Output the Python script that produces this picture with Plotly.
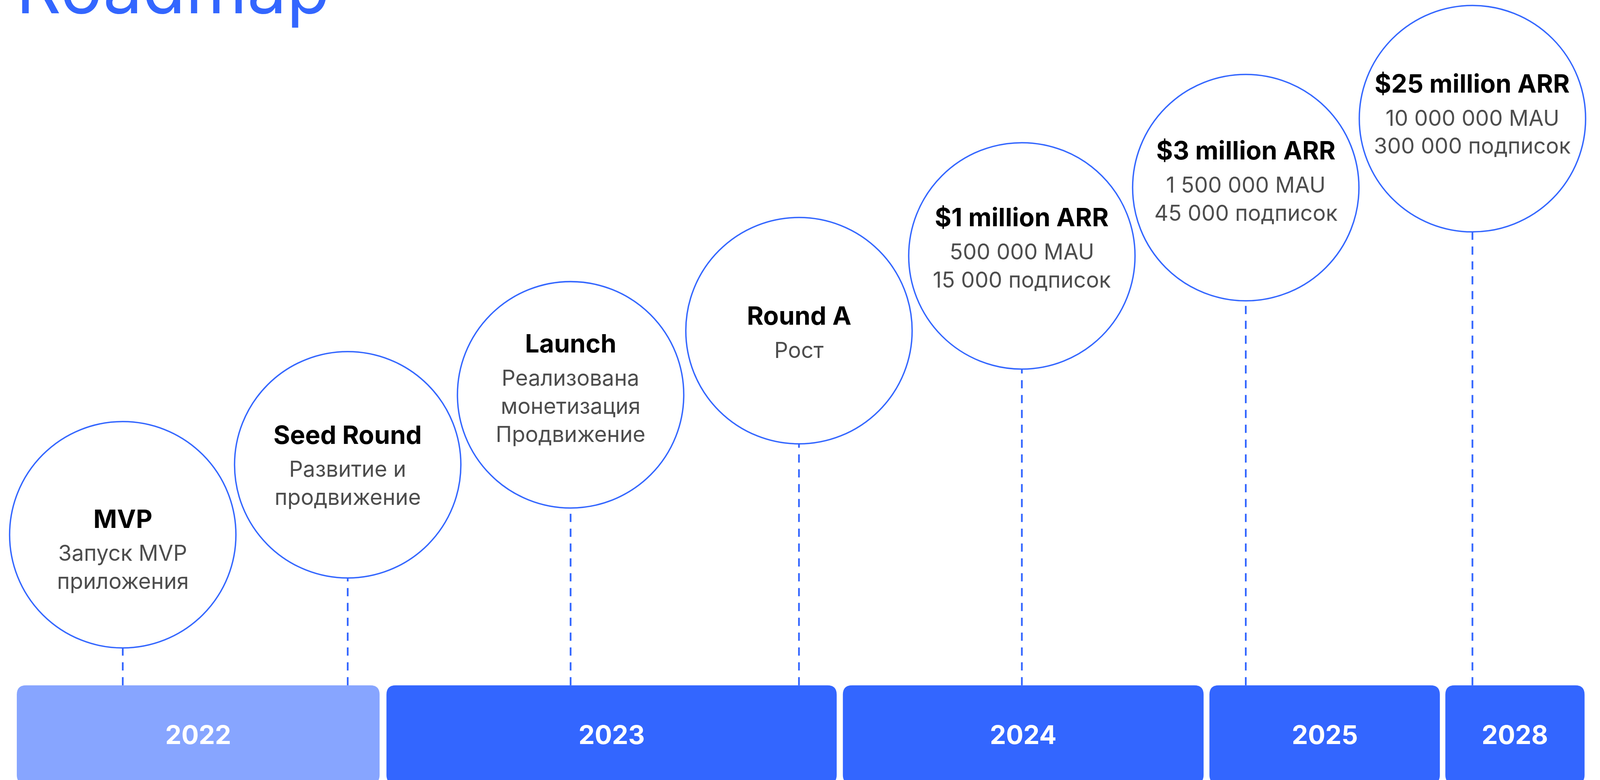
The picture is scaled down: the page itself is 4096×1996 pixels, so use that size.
import plotly.graph_objects as go

# ---------------- data ----------------
milestones = ["MVP", "Seed Round", "Launch", "Round A",
              "$1 million ARR", "$3 million ARR", "$25 million ARR"]
details = [
    ["Запуск MVP", "приложения"],
    ["Развитие и", "продвижение"],
    ["Реализована", "монетизация", "Продвижение"],
    ["Рост"],
    ["500 000 MAU", "15 000 подписок"],
    ["1 500 000 MAU", "45 000 подписок"],
    ["10 000 000 MAU", "300 000 подписок"],
]
years = ["2022", "2023", "2024", "2025", "2028"]
title_text = "Roadmap"

# ---------------- layout (reference pixel space) ----------------
REF_W, REF_H = 4666, 2274
OUT_W, OUT_H = 4096, 1996
S = OUT_W / REF_W

circle_cx = [358, 1014, 1664, 2330, 2980, 3633, 4294]
circle_cy = [1559, 1355, 1151, 964, 746, 547, 346]
circle_r = 330
title_baseline_off = [-20, -61, -123, -17, -86, -82, -76]

year_x0 = [49, 1127, 2458, 3527, 4215]
year_x1 = [1107, 2440, 3510, 4199, 4621]
bar_top, bar_bottom, bar_rad = 1998, 2286, 27

BLUE = "#3366FF"
LIGHT = "#87A5FF"
year_colors = [LIGHT, BLUE, BLUE, BLUE, BLUE]

FONT = "Inter"
title_fs_ref = 74      # bold milestone title
sub_fs_ref = 63.5      # detail lines
year_fs_ref = 75
head_fs_ref = 205
CAP = 0.727

fig = go.Figure()
shapes = []
ann = []

# circles and dashed connectors
for i, name in enumerate(milestones):
    cx, cy = circle_cx[i], circle_cy[i]
    shapes.append(dict(type="circle", xref="x", yref="y",
                       x0=cx - circle_r, x1=cx + circle_r,
                       y0=cy - circle_r, y1=cy + circle_r,
                       line=dict(color=BLUE, width=4.0 * S),
                       fillcolor="rgba(0,0,0,0)", layer="above"))
    shapes.append(dict(type="line", xref="x", yref="y",
                       x0=cx, x1=cx, y0=bar_top, y1=cy + circle_r,
                       line=dict(color=BLUE, width=5.0 * S, dash="21px,17px")))
    base = cy + title_baseline_off[i]
    ann.append(dict(x=cx, y=base - CAP * title_fs_ref / 2, xref="x", yref="y",
                    text="<b>" + name + "</b>", showarrow=False,
                    xanchor="center", yanchor="middle",
                    font=dict(family=FONT, size=title_fs_ref * S, color="#000000")))
    for k, line in enumerate(details[i]):
        b = base + 96 + 82 * k
        ann.append(dict(x=cx, y=b - CAP * sub_fs_ref / 2, xref="x", yref="y",
                        text=line, showarrow=False,
                        xanchor="center", yanchor="middle",
                        font=dict(family=FONT, size=sub_fs_ref * S, color="#4D4D4D")))

# year bars (rounded rectangles)
def rrect(x0, y0, x1, y1, r):
    return (f"M {x0+r},{y0} L {x1-r},{y0} Q {x1},{y0} {x1},{y0+r} "
            f"L {x1},{y1-r} Q {x1},{y1} {x1-r},{y1} L {x0+r},{y1} "
            f"Q {x0},{y1} {x0},{y1-r} L {x0},{y0+r} Q {x0},{y0} {x0+r},{y0} Z")

for j, yr in enumerate(years):
    shapes.append(dict(type="path", xref="x", yref="y",
                       path=rrect(year_x0[j], bar_top, year_x1[j], bar_bottom, bar_rad),
                       fillcolor=year_colors[j], line=dict(width=0), layer="below"))
    ann.append(dict(x=(year_x0[j] + year_x1[j]) / 2, y=(bar_top + bar_bottom) / 2,
                    xref="x", yref="y", text="<b>" + yr + "</b>", showarrow=False,
                    xanchor="center", yanchor="middle",
                    font=dict(family=FONT, size=year_fs_ref * S, color="#FFFFFF")))

# heading (cut at the top edge, as in the reference) -- paper coords
head_base = 39
head_mid_ref = head_base - CAP * head_fs_ref / 2
ann.append(dict(x=44 / REF_W, y=1 - head_mid_ref / REF_H, xref="paper", yref="paper",
                text=title_text, showarrow=False, xanchor="left", yanchor="middle",
                font=dict(family=FONT, size=head_fs_ref * S, color=BLUE)))

fig.update_layout(
    width=OUT_W, height=OUT_H,
    margin=dict(l=0, r=0, t=0, b=0),
    paper_bgcolor="white", plot_bgcolor="white",
    xaxis=dict(range=[0, REF_W], visible=False, fixedrange=True),
    yaxis=dict(range=[REF_H, 0], visible=False, fixedrange=True),
    shapes=shapes, annotations=ann, showlegend=False,
)

fig.write_html("out.html", config={"displayModeBar": False},
               post_script="document.body.style.margin='0px';")
